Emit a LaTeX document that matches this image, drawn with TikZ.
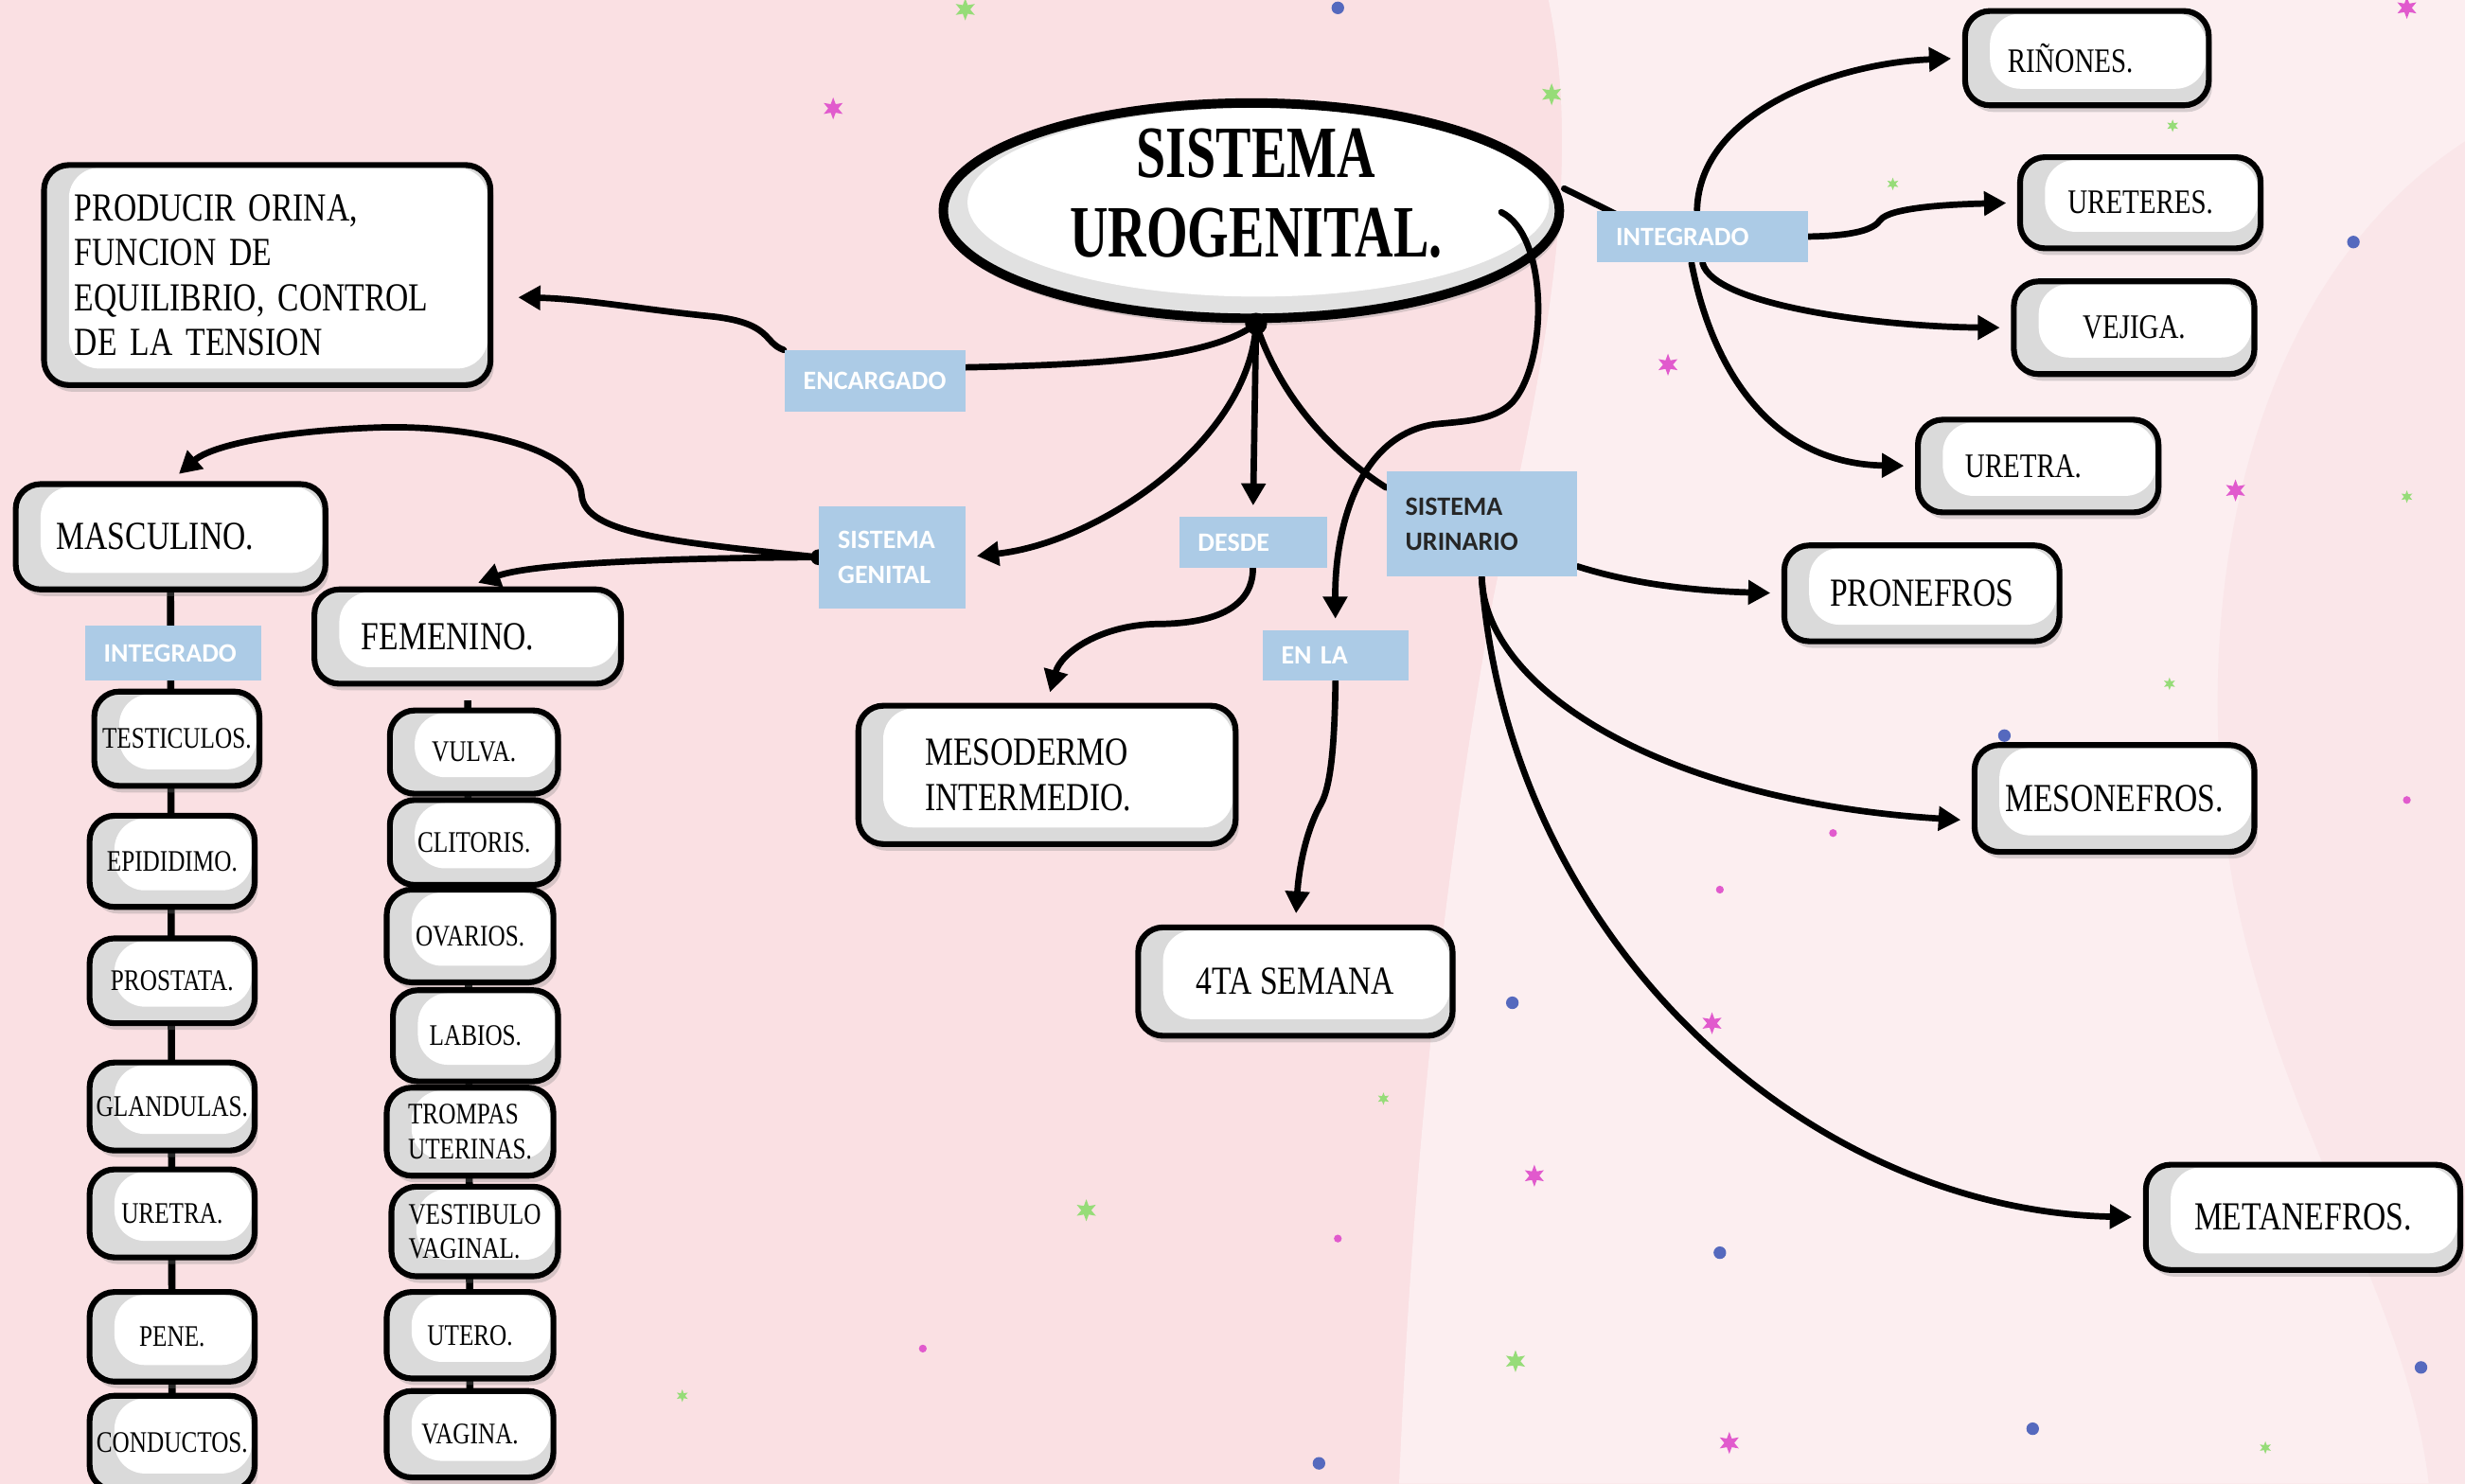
\documentclass[tikz,border=0pt]{standalone}
\usepackage{fontspec}
\setmainfont{Liberation Serif}
\newfontfamily\condf[FakeStretch=0.8]{Liberation Serif}
\newfontfamily\titlef[FakeStretch=0.72]{Liberation Serif}
\newfontfamily\labf{Carlito}
\usetikzlibrary{arrows.meta,shadows,shapes.geometric}
\pgfdeclarelayer{back}
\pgfdeclarelayer{links}
\pgfsetlayers{back,links,main}

\definecolor{bgpink}{RGB}{250,224,227}
\definecolor{bglight}{RGB}{252,238,240}
\definecolor{bgmid}{RGB}{250,230,233}
\definecolor{lblue}{RGB}{172,203,230}
\definecolor{boxgray}{RGB}{218,218,218}
\definecolor{sgreen}{RGB}{150,220,120}
\definecolor{smag}{RGB}{225,90,205}
\definecolor{sblue}{RGB}{85,105,190}

\newcommand\fntbig{\condf\fontsize{14.4}{16.3}\selectfont}
\newcommand\fntsm{\condf\fontsize{12.4}{14}\selectfont}
\newcommand\fntlist{\condf\fontsize{10.8}{12.5}\selectfont}

\tikzset{
  cbox/.style={draw=black, line width=2.1pt, rounded corners=9pt, fill=boxgray,
    drop shadow={shadow xshift=1.2pt, shadow yshift=-2.4pt, opacity=0.3},
    path picture={\fill[white, rounded corners=11pt]
      ([xshift=9pt,yshift=6pt]path picture bounding box.south west) rectangle
      ([xshift=-1pt,yshift=-1pt]path picture bounding box.north east);},
    inner sep=2pt},
  lab/.style={fill=lblue, text=white, font=\labf\bfseries\fontsize{9.6}{12.5}\selectfont,
    inner xsep=0pt, inner ysep=2pt, align=left},
  link/.style={line width=2.3pt, line cap=round},
  arr/.style={link, -{Triangle[length=8pt,width=8.5pt]}, shorten >=4pt},
  column/.style={line width=2.6pt},
}

% rounded box given by its corners: name, x1, y1, x2, y2, options, text
\newcommand\cbx[7]{\node[cbox,#6,minimum width={(#4-#2)*0.02cm},minimum height={(#5-#3)*0.02cm}]
  (#1) at ({(#2+#4)/2},{(#3+#5)/2}) {#7};}
% blue linking-word label
\newcommand\lbx[7]{\node[lab,#6,minimum width={(#4-#2)*0.02cm},minimum height={(#5-#3)*0.02cm},
  text width={(#4-#2-24)*0.02cm}] (#1) at ({(#2+#4)/2},{(#3+#5)/2}) {#7};}
% background sparkles
\newcommand\spark[4]{\fill[#3] (#1,#2) +(90:#4) -- +(120:{0.45*#4}) -- +(150:#4) -- +(180:{0.45*#4})
  -- +(210:#4) -- +(240:{0.45*#4}) -- +(270:#4) -- +(300:{0.45*#4}) -- +(330:#4)
  -- +(0:{0.45*#4}) -- +(30:#4) -- +(60:{0.45*#4}) -- cycle;}
\newcommand\speck[4]{\fill[#3] (#1,#2) circle (#4);}

\begin{document}
\begin{tikzpicture}[x=0.02cm,y=-0.02cm]
\useasboundingbox (0,0) rectangle (1568,944);

\begin{pgfonlayer}{back}
  \fill[bgpink] (0,0) rectangle (1568,944);
  \fill[bglight] (985,0) .. controls (1010,120) and (975,260) .. (950,380)
    .. controls (925,520) and (900,700) .. (890,944) -- (1568,944) -- (1568,0) -- cycle;
  \fill[bgmid] (1568,90) .. controls (1430,180) and (1390,380) .. (1420,560)
    .. controls (1450,720) and (1530,820) .. (1545,944) -- (1568,944) -- cycle;
  \spark{614}{6}{sgreen}{7}
  \speck{851}{5}{sblue}{4}
  \spark{530}{69}{smag}{7}
  \spark{987}{60}{sgreen}{7}
  \spark{1382}{80}{sgreen}{4}
  \spark{1204}{117}{sgreen}{4}
  \speck{1497}{154}{sblue}{4}
  \spark{1061}{232}{smag}{7}
  \spark{1422}{312}{smag}{7}
  \spark{1531}{316}{sgreen}{4}
  \spark{1380}{435}{sgreen}{4}
  \speck{1275}{468}{sblue}{4}
  \speck{1531}{509}{smag}{2.5}
  \speck{1166}{530}{smag}{2.5}
  \speck{1094}{566}{smag}{2.5}
  \speck{962}{638}{sblue}{4}
  \spark{1089}{651}{smag}{7}
  \spark{880}{699}{sgreen}{4}
  \spark{976}{748}{smag}{7}
  \spark{691}{770}{sgreen}{7}
  \speck{851}{788}{smag}{2.5}
  \speck{1094}{797}{sblue}{4}
  \speck{587}{858}{smag}{2.5}
  \speck{1540}{870}{sblue}{4}
  \spark{964}{866}{sgreen}{7}
  \spark{434}{888}{sgreen}{4}
  \speck{1293}{909}{sblue}{4}
  \spark{1100}{918}{smag}{7}
  \spark{1441}{921}{sgreen}{4}
  \speck{839}{931}{sblue}{4}
  \spark{1531}{5}{smag}{7}
\end{pgfonlayer}

% central concept
\node[ellipse, draw=black, line width=3.4pt, fill=boxgray!80, minimum width=7.84cm, minimum height=2.74cm,
  drop shadow={shadow xshift=1pt,shadow yshift=-2.5pt,opacity=.3},
  path picture={\fill[white] ([xshift=2.5pt,yshift=3pt]path picture bounding box.center)
    ellipse [x radius=3.7cm, y radius=1.2cm];}] (title) at (796,134) {};
\node[font=\titlef\bfseries\fontsize{26.7}{29}\selectfont, align=center] (titletext) at (799,123)
  {SISTEMA\\UROGENITAL.};
\coordinate (hub) at (799,206);
\coordinate (ulink) at (955,135);

% function
\cbx{prod}{28}{105}{312}{245}{font=\fntbig,align=left,text width=4.9cm}{PRODUCIR ORINA,\\FUNCION DE\\EQUILIBRIO, CONTROL\\DE LA TENSION}

% genital system
\cbx{masc}{10}{308}{207}{375}{font=\fntbig,align=left,text width=2.9cm}{MASCULINO.}
\cbx{fem}{200}{375}{395}{435}{font=\fntbig,align=left,text width=2.7cm}{FEMENINO.}
\cbx{tes}{60}{440}{165}{500}{font=\fntlist}{TESTICULOS.}
\cbx{epi}{57}{519}{162}{577}{font=\fntlist}{EPIDIDIMO.}
\cbx{pros}{57}{597}{162}{651}{font=\fntlist}{PROSTATA.}
\cbx{gla}{57}{676}{162}{732}{font=\fntlist}{GLANDULAS.}
\cbx{uretm}{57}{744}{162}{800}{font=\fntlist}{URETRA.}
\cbx{pen}{57}{822}{162}{879}{font=\fntlist}{PENE.}
\cbx{con}{57}{888}{162}{948}{font=\fntlist}{CONDUCTOS.}

\cbx{vul}{248}{452}{355}{505}{font=\fntlist}{VULVA.}
\cbx{cli}{248}{509}{355}{563}{font=\fntlist}{CLITORIS.}
\cbx{ova}{246}{566}{352}{625}{font=\fntlist}{OVARIOS.}
\cbx{labi}{250}{630}{355}{688}{font=\fntlist}{LABIOS.}
\cbx{tro}{246}{692}{352}{748}{font=\fntlist,align=left}{TROMPAS\\UTERINAS.}
\cbx{ves}{249}{755}{355}{812}{font=\fntlist,align=left}{VESTIBULO\\VAGINAL.}
\cbx{ute}{246}{822}{352}{877}{font=\fntlist}{UTERO.}
\cbx{vag}{246}{885}{352}{940}{font=\fntlist}{VAGINA.}

% origin
\cbx{meso}{546}{449}{786}{537}{font=\fntbig,align=left,text width=3.1cm}{MESODERMO\\INTERMEDIO.}
\cbx{sem}{724}{590}{924}{659}{font=\fntbig}{4TA SEMANA}

% urinary system
\cbx{rin}{1250}{7}{1405}{67}{font=\fntsm,align=left,text width=2.02cm}{RIÑONES.}
\cbx{uret}{1285}{100}{1438}{158}{font=\fntsm}{URETERES.}
\cbx{vej}{1281}{179}{1434}{238}{font=\fntsm}{VEJIGA.}
\cbx{uretr}{1220}{267}{1373}{326}{font=\fntsm,align=left,text width=1.86cm}{URETRA.}
\cbx{pron}{1135}{347}{1310}{408}{font=\fntbig}{PRONEFROS}
\cbx{meson}{1256}{474}{1434}{542}{font=\fntbig}{MESONEFROS.}
\cbx{meta}{1365}{741}{1565}{808}{font=\fntbig}{METANEFROS.}

% linking words
\lbx{enc}{499}{223}{614}{262}{}{ENCARGADO}
\lbx{gen}{521}{322}{614}{387}{}{SISTEMA\\GENITAL}
\lbx{desde}{750}{329}{844}{361}{}{DESDE}
\lbx{enla}{803}{401}{896}{433}{}{EN LA}
\lbx{uri}{882}{300}{1003}{367}{text=black!85}{SISTEMA\\URINARIO}
\lbx{intr}{1016}{134}{1150}{167}{}{INTEGRADO}
\lbx{intl}{54}{398}{166}{433}{}{INTEGRADO}

\fill (hub) circle (7);

% link that starts inside the central ellipse
\draw[arr] (ulink) .. controls (985,150) and (985,230) .. (962,256)
  .. controls (950,268) and (930,268) .. (912,270)
  .. controls (862,278) and (849,340) .. (enla.north);

\begin{pgfonlayer}{links}
  \draw[column] (masc.south) -- (con.center);
  \draw[column] ([yshift=-5pt]fem.south) -- (vag.center);
  \fill (gen.west) circle (5);

  \draw[link] (hub) .. controls (770,228) and (700,232) .. ([yshift=5pt]enc.east);
  \draw[arr] (enc.north west) .. controls (485,218) and (492,205) .. (450,201)
    .. controls (410,197) and (370,190) .. ([xshift=5pt,yshift=-8pt]prod.east);
  \draw[arr] (hub) .. controls (795,280) and (700,345) .. (gen.east);
  \draw[arr] (gen.west) .. controls (430,345) and (372,340) .. (370,315)
    .. controls (368,285) and (300,270) .. (240,272)
    .. controls (180,274) and (135,283) .. (masc.north);
  \draw[arr] (gen.west) .. controls (430,355) and (340,358) .. (fem.north);
  \draw[arr] (hub) -- (desde.north);
  \draw[arr] (desde.south) .. controls (797,388) and (770,397) .. (735,397)
    .. controls (700,398) and (675,415) .. (meso.north);
  \draw[link] (hub) .. controls (815,255) and (850,290) .. ([yshift=-6pt]uri.north west);
  \draw[arr] (enla.south) .. controls (849,470) and (847,500) .. (840,512)
    .. controls (830,530) and (826,555) .. (sem.north);

  \draw[link] ([yshift=8pt]title.east) -- ([xshift=8pt,yshift=-2pt]intr.north west);
  \draw[arr] ([xshift=-2pt]intr.north) .. controls (1081,70) and (1170,40) .. (rin.west);
  \draw[arr] (intr.east) .. controls (1180,150) and (1192,146) .. (1196,140)
    .. controls (1202,132) and (1240,130) .. (uret.west);
  \draw[arr] (intr.south) .. controls (1090,195) and (1200,208) .. (vej.west);
  \draw[arr] ([xshift=-4pt]intr.south) .. controls (1090,240) and (1130,295) .. (uretr.west);

  \draw[arr] ([yshift=4pt]uri.south east) .. controls (1040,372) and (1080,376) .. (pron.west);
  \draw[arr] (uri.south) .. controls (945,440) and (1060,510) .. ([yshift=-8pt]meson.west);
  \draw[arr] (uri.south) .. controls (960,600) and (1150,770) .. (meta.west);
\end{pgfonlayer}
\end{tikzpicture}
\end{document}
